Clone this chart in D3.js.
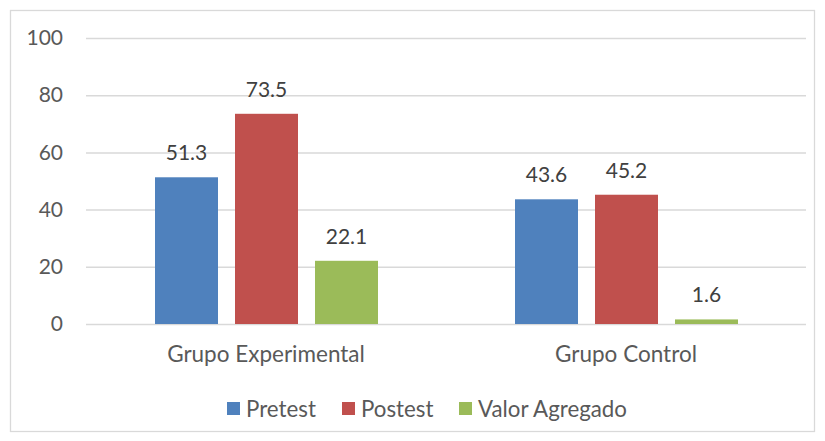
<!DOCTYPE html>
<html><head><meta charset="utf-8">
<script src="https://cdn.jsdelivr.net/npm/d3@7"></script>
<style>body{margin:0;background:#fff}svg{display:block}text{font-family:Lato,"Liberation Sans",Arial,sans-serif;fill:#404040}</style>
</head><body><svg id="c" width="825" height="441"></svg>
<script>
const categories = ["Grupo Experimental", "Grupo Control"];
const seriesNames = ["Pretest", "Postest", "Valor Agregado"];
const pretest = [51.3, 43.6];
const postest = [73.5, 45.2];
const valorAgregado = [22.1, 1.6];
const yTicks = [0, 20, 40, 60, 80, 100];
const colors = ["#4f81bd", "#c0504d", "#9bbb59"];
const seriesValues = [pretest, postest, valorAgregado];

const svg = d3.select("#c");
svg.append("rect").attr("x",10.5).attr("y",10.5).attr("width",804).attr("height",421)
  .attr("fill","#fff").attr("stroke","#d9d9d9").attr("stroke-width",1.3);

const y = d3.scaleLinear().domain([0,100]).range([324,38]);
const x0 = d3.scaleBand().domain(categories).range([86,806]).padding(0);
const x1 = d3.scaleBand().domain(seriesNames).range([69,292]).paddingInner(0.2125).paddingOuter(0);

const yAxis = d3.axisLeft(y).tickValues(yTicks).tickSize(-(806-86)).tickPadding(23);
const gy = svg.append("g").attr("transform","translate(86,0)").call(yAxis);
gy.select(".domain").remove();
gy.selectAll(".tick line").attr("stroke","#d9d9d9").attr("stroke-width",1.5);
gy.selectAll(".tick text").attr("font-size",21).attr("font-family","Lato").style("fill","#595959");

const groups = svg.append("g").selectAll("g").data(categories).join("g")
  .attr("transform", d => `translate(${x0(d)},0)`);
groups.each(function(cat, ci){
  const g = d3.select(this);
  seriesNames.forEach((s, si) => {
    const v = seriesValues[si][ci];
    g.append("rect").attr("x", x1(s)).attr("width", x1.bandwidth())
      .attr("y", y(v)).attr("height", y(0)-y(v)).attr("fill", colors[si]);
    g.append("text").attr("x", x1(s)+x1.bandwidth()/2).attr("y", y(v)-17)
      .attr("text-anchor","middle").attr("font-size",21).text(v.toFixed(1));
  });
  g.append("text").attr("x", x0.bandwidth()/2).attr("y", 362).attr("text-anchor","middle")
    .attr("font-size",22.5).style("fill","#595959").text(cat);
});

const legendX = [227, 342, 459];
const lg = svg.append("g");
seriesNames.forEach((s,i)=>{
  lg.append("rect").attr("x",legendX[i]).attr("y",402).attr("width",13).attr("height",13).attr("fill",colors[i]);
  lg.append("text").attr("x",legendX[i]+19).attr("y",416.5).attr("font-size",22.3).style("fill","#595959").text(s);
});
</script></body></html>
